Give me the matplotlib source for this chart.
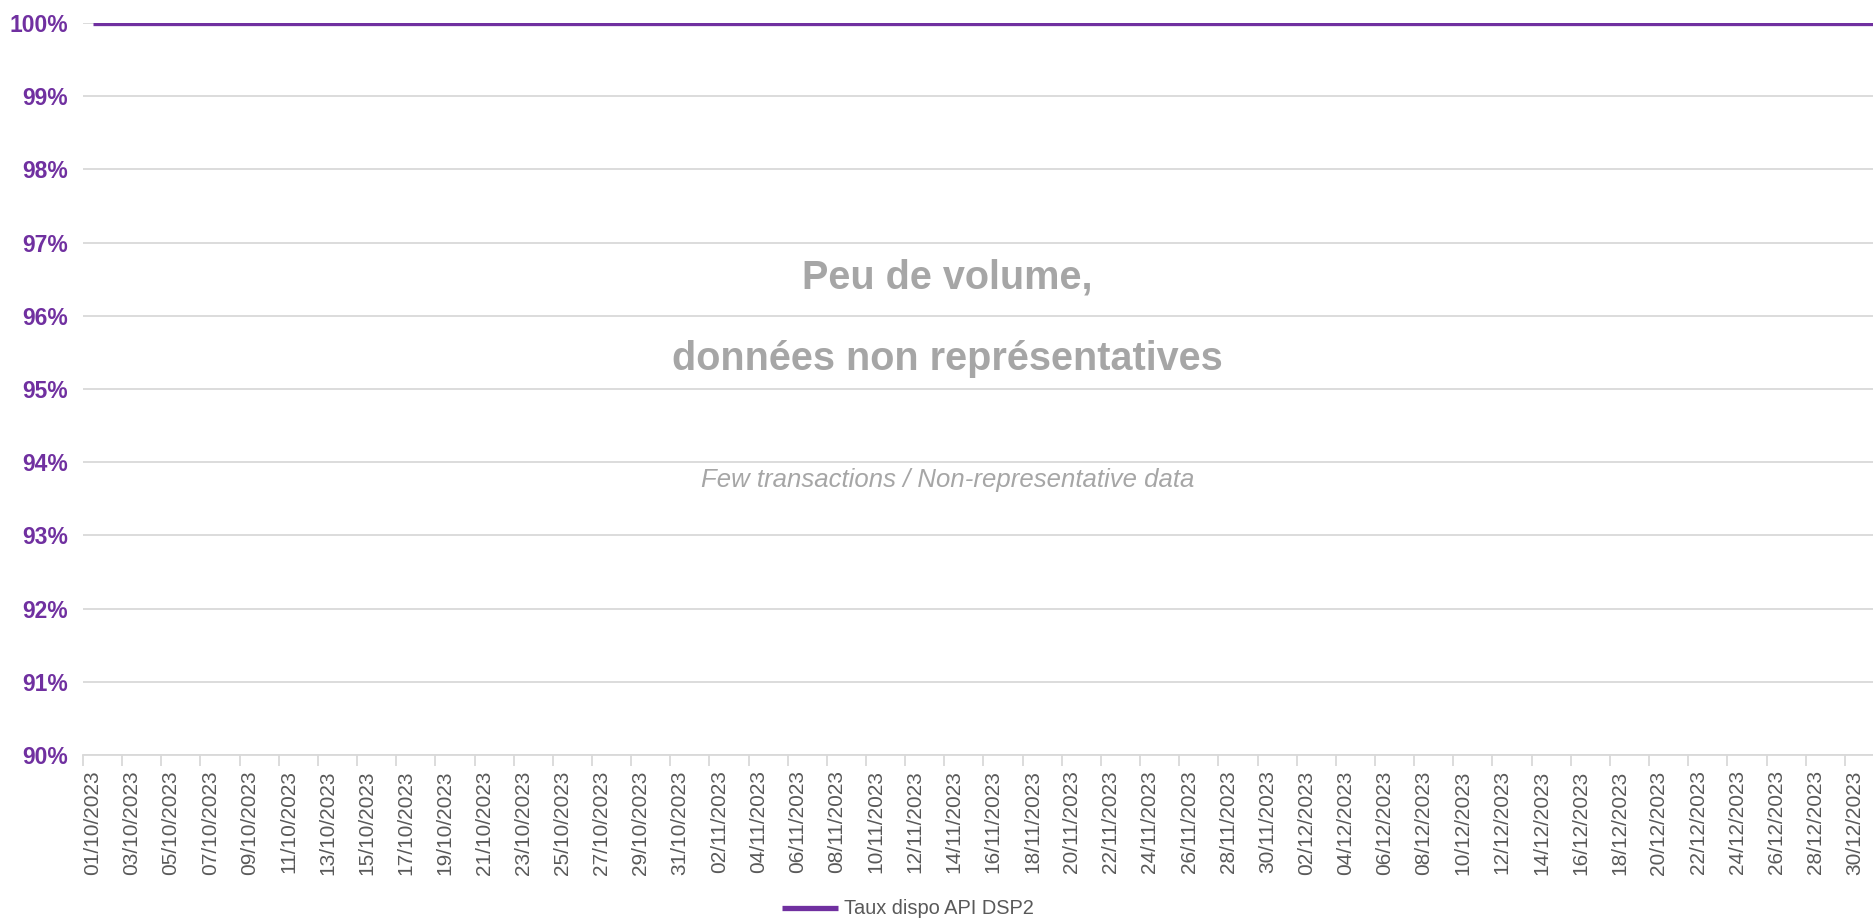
import numpy as np
import pandas as pd
import matplotlib
matplotlib.use("Agg")
import matplotlib.pyplot as plt
from matplotlib.ticker import FixedLocator, FuncFormatter

plt.rcParams['font.family'] = ['Liberation Sans', 'DejaVu Sans']

# daily categories, Oct 1 -> Dec 31 2023
dates = pd.date_range("2023-10-01", "2023-12-31", freq="D")
date_labels = [d.strftime("%d/%m/%Y") for d in dates]

# availability (%): flat at 100% every day
taux_oct = [100.0] * 31
taux_nov = [100.0] * 30
taux_dec = [100.0] * 31
taux = taux_oct + taux_nov + taux_dec

purple = '#7030A0'
grey_txt = '#595959'
grid_col = '#D9D9D9'

fig = plt.figure(figsize=(18.74, 9.18), dpi=100)
ax = fig.add_axes([83/1874, 163/918, 1801/1874, (755-23)/918])

x = np.arange(len(taux))
ax.plot(x, taux, color=purple, lw=3.8, solid_capstyle='butt', label='Taux dispo API DSP2', zorder=3)

ax.set_xlim(-0.5, len(taux) - 0.5)
ax.set_ylim(90, 100)
ax.set_yticks(np.arange(90, 101, 1))
ax.yaxis.set_major_formatter(FuncFormatter(lambda v, p: '%d%%' % v))
ax.tick_params(axis='y', length=0, pad=11, labelsize=16.5, labelcolor=purple)
for t in ax.get_yticklabels():
    t.set_fontweight('bold')
ax.grid(axis='y', color=grid_col, lw=1.3, zorder=0)

# labels every 2nd day, tick marks between pairs
ax.xaxis.set_major_locator(FixedLocator(x[::2]))
ax.set_xticklabels(date_labels[::2], rotation=90, fontsize=15, color=grey_txt)
ax.xaxis.set_minor_locator(FixedLocator(np.arange(-0.5, len(taux), 2)))
ax.tick_params(axis='x', which='major', length=0, pad=11)
ax.tick_params(axis='x', which='minor', length=8, color=grid_col, width=1.3)

for s in ['top', 'right', 'left']:
    ax.spines[s].set_visible(False)
ax.spines['bottom'].set_color(grid_col)
ax.spines['bottom'].set_linewidth(1.3)

note_x = 0.48
ax.text(note_x, 96.52, 'Peu de volume,', transform=ax.get_yaxis_transform(),
        ha='center', va='center', fontsize=28.5, fontweight='bold', color='#A6A6A6')
ax.text(note_x, 95.41, 'données non représentatives', transform=ax.get_yaxis_transform(),
        ha='center', va='center', fontsize=28.5, fontweight='bold', color='#A6A6A6')
ax.text(note_x, 93.75, 'Few transactions / Non-representative data', transform=ax.get_yaxis_transform(),
        ha='center', va='center', fontsize=18.5, style='italic', color='#A6A6A6')

fig.legend(loc='center', bbox_to_anchor=(908/1874, 1 - 909/918), frameon=False,
           fontsize=14.4, labelcolor=grey_txt, handlelength=2.8, handletextpad=0.3)

fig.savefig('out.png', dpi=100, facecolor='white')
